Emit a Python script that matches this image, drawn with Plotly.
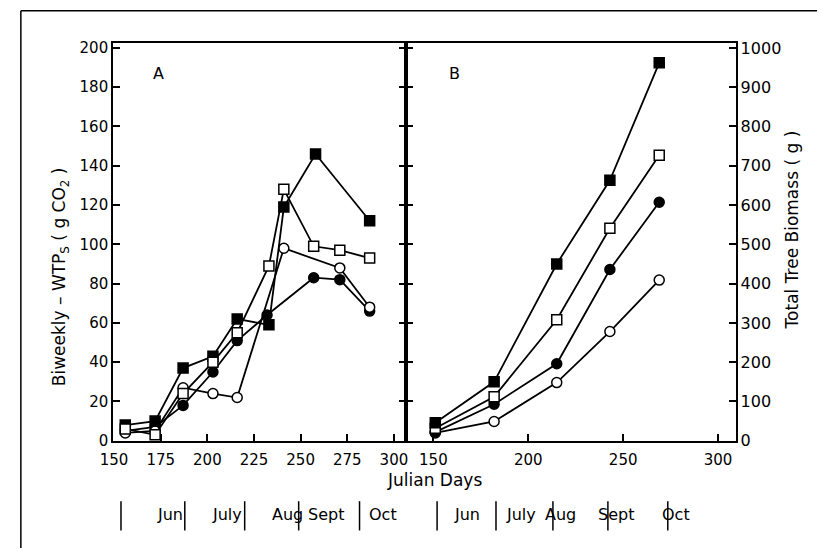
import plotly.graph_objects as go

# ---------------- data ----------------
# Panel A: biweekly whole-tree photosynthesis (g CO2)
a_fsq_day = [156, 172, 187, 203, 216, 233, 241, 258, 287]
a_fsq_val = [8, 10, 37, 43, 62, 59, 119, 146, 112]
a_osq_day = [156, 172, 187, 203, 216, 233, 241, 257, 271, 287]
a_osq_val = [6, 3, 24, 40, 55, 89, 128, 99, 97, 93]
a_fci_day = [156, 172, 187, 203, 216, 232, 257, 271, 287]
a_fci_val = [5, 7, 18, 35, 51, 64, 83, 82, 66]
a_oci_day = [156, 172, 187, 203, 216, 241, 271, 287]
a_oci_val = [4, 5, 27, 24, 22, 98, 88, 68]

# Panel B: total tree biomass (g)
b_day = [151, 182, 215, 243, 269]
b_fsq_val = [46, 150, 450, 663, 962]
b_osq_val = [32, 112, 308, 541, 727]
b_fci_val = [22, 93, 196, 436, 607]
b_oci_val = [20, 49, 148, 278, 409]

a_xticks = [150, 175, 200, 225, 250, 275, 300]
b_xticks = [150, 200, 250, 300]
a_yticks = [0, 20, 40, 60, 80, 100, 120, 140, 160, 180, 200]
b_yticks = [0, 100, 200, 300, 400, 500, 600, 700, 800, 900, 1000]
months = ["Jun", "July", "Aug", "Sept", "Oct"]

# ---------------- layout helpers ----------------
W, H = 819, 558
def px(x):
    return x / W
def py(y):
    return 1 - y / H

FONT = "DejaVu Sans, Liberation Sans, sans-serif"
LW = 1.8

def styles(kind):
    if kind == "fsq":
        return dict(symbol="square", size=10, color="black", line=dict(color="black", width=1.5))
    if kind == "osq":
        return dict(symbol="square", size=10, color="white", line=dict(color="black", width=1.5))
    if kind == "fci":
        return dict(symbol="circle", size=10, color="black", line=dict(color="black", width=1.5))
    return dict(symbol="circle", size=10, color="white", line=dict(color="black", width=1.5))

fig = go.Figure()
for xs, ys, k in [(a_fci_day, a_fci_val, "fci"), (a_oci_day, a_oci_val, "oci"),
                  (a_fsq_day, a_fsq_val, "fsq"), (a_osq_day, a_osq_val, "osq")]:
    fig.add_trace(go.Scatter(x=xs, y=ys, mode="lines+markers", xaxis="x", yaxis="y",
                             line=dict(color="black", width=LW), marker=styles(k),
                             showlegend=False, cliponaxis=False))
for ys, k in [(b_oci_val, "oci"), (b_fci_val, "fci"), (b_osq_val, "osq"), (b_fsq_val, "fsq")]:
    fig.add_trace(go.Scatter(x=b_day, y=ys, mode="lines+markers", xaxis="x2", yaxis="y2",
                             line=dict(color="black", width=LW), marker=styles(k),
                             showlegend=False, cliponaxis=False))

y_bot, y_top = 448, 40
ax_common = dict(showline=True, linecolor="black", linewidth=1.8, ticks="inside",
                 tickcolor="black", tickwidth=1.5, showgrid=False, zeroline=False)
tf = dict(family=FONT, size=15, color="black")

fig.update_layout(
    width=W, height=H, margin=dict(l=0, r=0, t=0, b=0),
    paper_bgcolor="white", plot_bgcolor="white",
    xaxis=dict(domain=[px(102), px(400)], range=[149.5, 306.3], tickvals=a_xticks,
               mirror=True, ticklen=7, anchor="y", tickfont=tf, ticklabelstandoff=4,
               **ax_common),
    yaxis=dict(domain=[py(y_bot), py(y_top)], range=[0, 202.5], tickvals=a_yticks,
               mirror="ticks", ticklen=7, anchor="x", tickfont=tf, **ax_common),
    xaxis2=dict(domain=[px(400), px(736)], range=[135.4, 309.2], tickvals=b_xticks,
                mirror=True, ticklen=7, anchor="y2", tickfont=tf, ticklabelstandoff=4,
                **ax_common),
    yaxis2=dict(domain=[py(y_bot), py(y_top)], range=[0, 1012.5], tickvals=b_yticks,
                side="right", mirror="ticks", ticklen=7, anchor="x2",
                tickfont=dict(family=FONT, size=16, color="black"), **ax_common),
)

ann = []
# panel letters
ann.append(dict(x=174, y=187, xref="x", yref="y", text="A", showarrow=False,
                font=dict(family=FONT, size=16, color="black")))
ann.append(dict(x=161, y=935, xref="x2", yref="y2", text="B", showarrow=False,
                font=dict(family=FONT, size=16, color="black")))
# axis titles
ann.append(dict(x=px(35), y=py(165), xref="paper", yref="paper",
                text="Biweekly \u2013 WTP<sub>S</sub> ( g CO<sub>2</sub> )", textangle=-90,
                showarrow=False, font=dict(family=FONT, size=17, color="black")))
ann.append(dict(x=px(806), y=py(232), xref="paper", yref="paper",
                text="Total Tree Biomass ( g )", textangle=-90,
                showarrow=False, font=dict(family=FONT, size=17, color="black")))
ann.append(dict(x=px(429), y=py(501), xref="paper", yref="paper", text="Julian Days",
                showarrow=False, font=dict(family=FONT, size=17, color="black")))

# month strip
bars_a = [110, 175, 236, 291, 353]
labs_a = [145, 201, 262, 319, 377]
bars_b = [432, 492, 550, 606, 667]
labs_b = [462, 517, 576, 635, 692]
shapes = []
for bars, labs in [(bars_a, labs_a), (bars_b, labs_b)]:
    for bx in bars:
        shapes.append(dict(type="line", xref="paper", yref="paper", x0=px(bx), x1=px(bx),
                           y0=py(510), y1=py(540), line=dict(color="black", width=1.5)))
    for lx, m in zip(labs, months):
        ann.append(dict(x=px(lx), y=py(535), xref="paper", yref="paper", text=m,
                        showarrow=False, font=dict(family=FONT, size=16, color="black")))
# outer figure frame (left and top edges visible)
shapes.append(dict(type="line", xref="paper", yref="paper", x0=px(8), x1=px(8),
                   y0=0, y1=py(7), line=dict(color="black", width=1.5)))
shapes.append(dict(type="line", xref="paper", yref="paper", x0=px(8), x1=1,
                   y0=py(7), y1=py(7), line=dict(color="black", width=1.5)))

fig.update_layout(annotations=ann, shapes=shapes)
fig.write_html("out.html")
